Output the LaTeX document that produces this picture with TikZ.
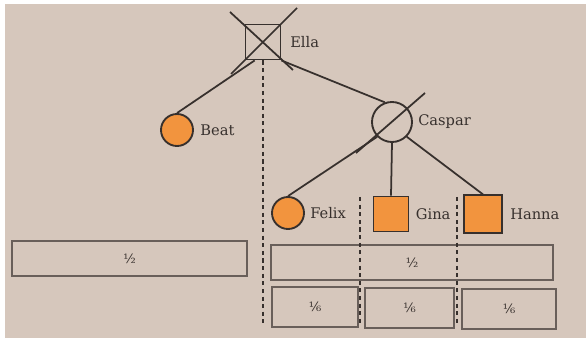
\documentclass[tikz,border=0pt]{standalone}
\usepackage{fontspec}
\setmainfont{DejaVu Serif}
\usetikzlibrary{positioning}
\definecolor{paper}{RGB}{214,199,188}
\definecolor{ink}{RGB}{55,48,45}
\definecolor{boxline}{RGB}{105,95,90}
\definecolor{marker}{RGB}{242,148,62}
\tikzset{
  male/.style={draw=ink, line width=1.6pt, minimum size=1.05cm, inner sep=0pt},
  female/.style={circle, draw=ink, line width=1.6pt, minimum size=0.96cm, inner sep=0pt},
  heir/.style={fill=marker},
  personname/.style={font=\fontsize{12.5}{14}\selectfont, text=ink},
  share/.style={draw=boxline, line width=1.2pt, font=\fontsize{11}{13}\selectfont, text=ink, inner sep=0pt},
  kin/.style={draw=ink, line width=1.5pt},
  split/.style={draw=ink, line width=2pt, dash pattern=on 3.5pt off 3pt}
}
\begin{document}
\begin{tikzpicture}[x=0.03cm, y=-0.03cm]
\useasboundingbox (0,0) rectangle (586,347);
\fill[white] (0,0) rectangle (586,347);
\fill[paper] (5,4) rectangle (586,338);
% persons
\node[male, label={[personname, label distance=4pt]right:Ella}] (ella) at (263,42) {};
\node[female, heir, label={[personname, label distance=2pt]right:Beat}] (beat) at (177,130) {};
\node[female, minimum size=1.2cm, label={[personname, label distance=1pt]right:Caspar}] (caspar) at (392,122) {};
\node[female, heir, label={[personname, label distance=1pt]right:Felix}] (felix) at (288,213) {};
\node[male, heir, label={[personname, label distance=2pt]right:Gina}] (gina) at (391,214) {};
\node[male, heir, minimum size=1.12cm, label={[personname, label distance=3pt]right:Hanna}] (hanna) at (483,214) {};
% deceased
\draw[kin] ([shift={(-33,-30)}]ella.center) -- ([shift={(30,28)}]ella.center);
\draw[kin] ([shift={(34,-34)}]ella.center) -- ([shift={(-32,32)}]ella.center);
\draw[kin] ([shift={(33,-29)}]caspar.center) -- ([shift={(-36,31)}]caspar.center);
% descent
\draw[kin] ([xshift=-0.25cm]ella.south) -- (beat.north);
\draw[kin] (ella.south east) -- (caspar.110);
\draw[kin] (caspar.south west) -- (felix.north);
\draw[kin] (caspar.south) -- (gina.north);
\draw[kin] (caspar.south east) -- (hanna.north);
% shares
\node[share, minimum width=7.05cm, minimum height=1.05cm] (half1) at (129.5,258.5) {½};
\node[share, minimum width=8.46cm, minimum height=1.05cm] (half2) at (412,262.5) {½};
\node[share, minimum width=2.58cm, minimum height=1.2cm] (sixth1) at (315,307) {⅙};
\node[share, minimum width=2.67cm, minimum height=1.2cm] (sixth2) at (409.5,308) {⅙};
\node[share, minimum width=2.82cm, minimum height=1.2cm] (sixth3) at (509,309) {⅙};
% dividers
\coordinate (base) at (0,326);
\coordinate (topg) at (360,197);
\coordinate (toph) at (457,197);
\draw[split] (ella.south) -- (ella.south |- base);
\draw[split] (topg) -- (topg |- base);
\draw[split] (toph) -- (toph |- base);
\end{tikzpicture}
\end{document}
